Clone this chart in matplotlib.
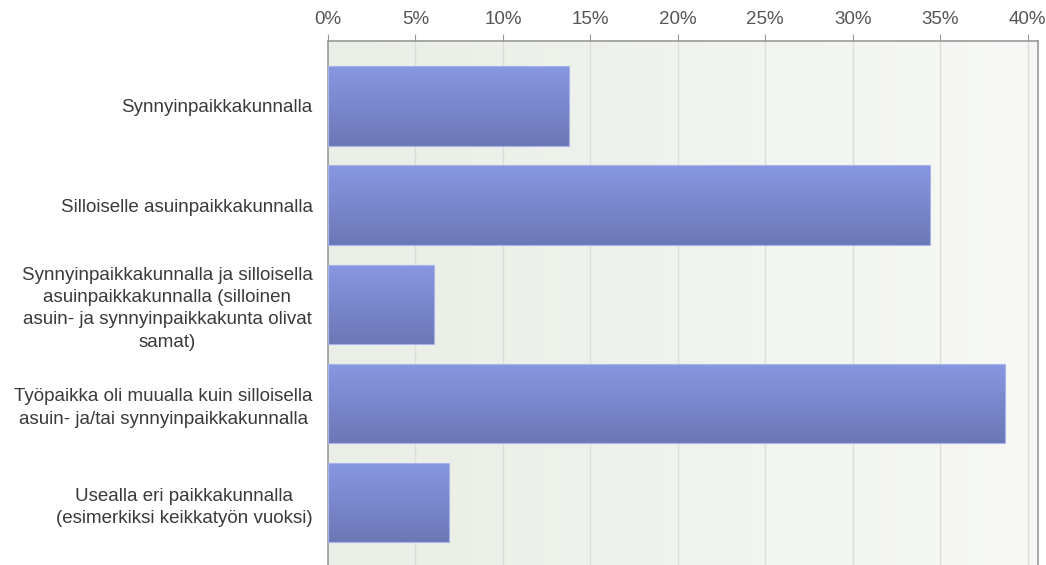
import matplotlib.pyplot as plt
import numpy as np
from matplotlib.colors import LinearSegmentedColormap

plt.rcParams['font.family'] = ['Liberation Sans', 'DejaVu Sans']

# Answers (Finnish survey) and share of respondents in percent
categories = [
    'Synnyinpaikkakunnalla',
    'Silloiselle asuinpaikkakunnalla',
    'Synnyinpaikkakunnalla ja silloisella\nasuinpaikkakunnalla (silloinen\nasuin- ja synnyinpaikkakunta olivat\nsamat)',
    'Työpaikka oli muualla kuin silloisella\nasuin- ja/tai synnyinpaikkakunnalla',
    'Usealla eri paikkakunnalla\n(esimerkiksi keikkatyön vuoksi)',
]
values = [13.8, 34.4, 6.05, 38.7, 6.9]
ticks = [0, 5, 10, 15, 20, 25, 30, 35, 40]
tick_labels = ['0%', '5%', '10%', '15%', '20%', '25%', '30%', '35%', '40%']

W, H = 1046, 565
fig = plt.figure(figsize=(W / 100, H / 100), dpi=100)
ax = fig.add_axes([328 / W, 0, (1038 - 328) / W, 1 - 41 / H])

xmax = 40.6
ymin, ymax = 4.63, -0.655
ax.set_xlim(0, xmax)
ax.set_ylim(ymin, ymax)

# background gradient: greenish on the left, paler on the right
bg = LinearSegmentedColormap.from_list('bg', ['#e9eee6', '#f7f8f5'])
ax.imshow(np.linspace(0, 1, 256).reshape(1, -1), cmap=bg, aspect='auto',
          extent=[0, xmax, ymin, ymax], zorder=0)

for t in ticks[1:]:
    ax.axvline(t, color='#dcdedb', lw=1, zorder=1)

# bars with vertical gradient
bar_cmap = LinearSegmentedColormap.from_list('bar', ['#8798e2', '#6b78b6'])
grad = np.linspace(0, 1, 256).reshape(-1, 1)
bars = ax.barh(range(len(values)), values, height=0.8, color='none',
               edgecolor='#a9b3e8', lw=0.8, zorder=3)
for b in bars:
    x0, y0 = b.get_x(), b.get_y()
    w, h = b.get_width(), b.get_height()
    im = ax.imshow(grad, cmap=bar_cmap, aspect='auto',
                   extent=[x0, x0 + w, y0 + h, y0], zorder=2)
    im.set_clip_path(b)
ax.set_xlim(0, xmax)
ax.set_ylim(ymin, ymax)

ax.xaxis.tick_top()
ax.set_xticks(ticks)
ax.set_xticklabels(tick_labels, fontsize=13.5, color='#555555')
ax.tick_params(axis='x', length=5, color='#999999', pad=4)
ax.set_yticks(range(len(categories)))
ax.set_yticklabels(categories, fontsize=13.5, color='#3a3a3a',
                   multialignment='center', linespacing=1.4)
ax.tick_params(axis='y', length=0, pad=11)

for side in ['left', 'top', 'right']:
    ax.spines[side].set_color('#999999')
    ax.spines[side].set_linewidth(1.2)
ax.spines['bottom'].set_visible(False)

fig.savefig('out.png', dpi=100, facecolor='white')
